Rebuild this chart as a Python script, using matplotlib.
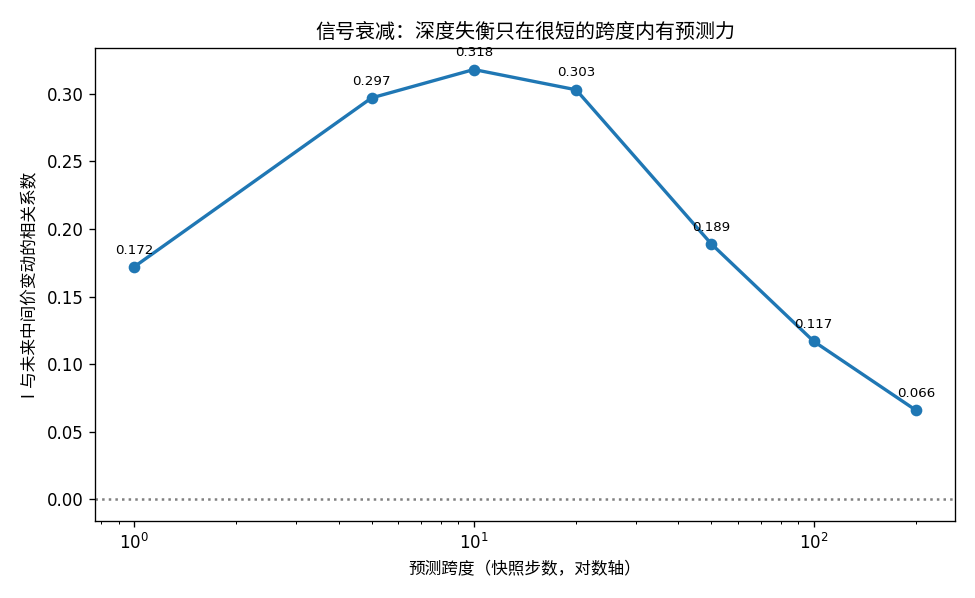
import matplotlib
matplotlib.use("Agg")
import matplotlib.pyplot as plt

# latin glyphs from DejaVu, CJK falls back to Noto
plt.rcParams['font.family'] = ['DejaVu Sans', 'Noto Sans CJK SC']
plt.rcParams['axes.unicode_minus'] = False

horizons = [1, 5, 10, 20, 50, 100, 200]
corr = [0.172, 0.297, 0.318, 0.303, 0.189, 0.117, 0.066]

fig, ax = plt.subplots(figsize=(975 / 120, 598 / 120), dpi=120)
fig.subplots_adjust(left=0.0974, right=0.9795, top=0.9197, bottom=0.1288)

ax.plot(horizons, corr, marker='o', linewidth=2, color='#1f77b4')
ax.axhline(0, color='gray', linestyle=':', linewidth=1.5)
ax.set_xscale('log')

for h, c in zip(horizons, corr):
    ax.annotate(f"{c:.3f}", (h, c), textcoords='offset points', xytext=(0, 8),
                ha='center', fontsize=8)

ax.set_title("信号衰减：深度失衡只在很短的跨度内有预测力", fontsize=12)
ax.set_xlabel("预测跨度（快照步数，对数轴）")
ax.set_ylabel("I 与未来中间价变动的相关系数")

fig.savefig("out.png", dpi=120)
